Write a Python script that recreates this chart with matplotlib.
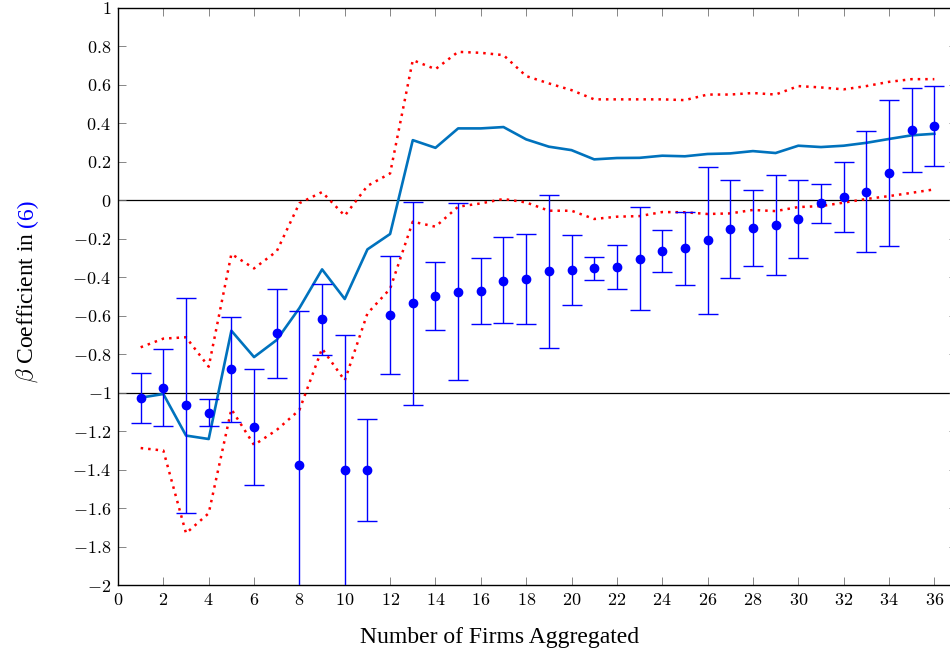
import matplotlib
matplotlib.use('Agg')
import matplotlib.pyplot as plt
from matplotlib.ticker import FuncFormatter, MultipleLocator

plt.rcParams['mathtext.fontset'] = 'cm'
plt.rcParams['font.family'] = ['Liberation Serif', 'DejaVu Serif']

# data
firms = list(range(1, 37))

coef = [-1.026, -0.974, -1.064, -1.104, -0.879, -1.178, -0.691, -1.377, -0.619, -1.400,
        -1.400, -0.595, -0.536, -0.496, -0.477, -0.471, -0.417, -0.407, -0.369, -0.361,
        -0.352, -0.345, -0.305, -0.265, -0.250, -0.208, -0.149, -0.144, -0.130, -0.097,
        -0.016, 0.017, 0.045, 0.143, 0.367, 0.388]
ci_hi = [-0.896, -0.771, -0.506, -1.035, -0.607, -0.879, -0.461, -0.577, -0.433, -0.698,
         -1.137, -0.290, -0.007, -0.319, -0.016, -0.300, -0.192, -0.173, 0.028, -0.179,
         -0.293, -0.231, -0.036, -0.156, -0.059, 0.171, 0.104, 0.052, 0.133, 0.106,
         0.086, 0.201, 0.362, 0.523, 0.585, 0.596]
ci_lo = [-1.156, -1.175, -1.624, -1.173, -1.152, -1.478, -0.925, -2.40, -0.806, -2.40,
         -1.665, -0.902, -1.064, -0.672, -0.936, -0.643, -0.639, -0.641, -0.766, -0.543,
         -0.413, -0.459, -0.572, -0.374, -0.440, -0.589, -0.402, -0.340, -0.390, -0.298,
         -0.118, -0.165, -0.270, -0.236, 0.149, 0.178]

mean_line = [-1.026, -1.007, -1.223, -1.241, -0.678, -0.815, -0.726, -0.560, -0.359, -0.513,
             -0.255, -0.175, 0.313, 0.273, 0.374, 0.374, 0.381, 0.317, 0.279, 0.261,
             0.213, 0.220, 0.221, 0.232, 0.229, 0.241, 0.244, 0.256, 0.246, 0.284,
             0.277, 0.284, 0.299, 0.319, 0.338, 0.346]
band_hi = [-0.764, -0.719, -0.712, -0.865, -0.279, -0.354, -0.265, -0.015, 0.043, -0.080,
           0.075, 0.140, 0.729, 0.682, 0.772, 0.767, 0.755, 0.646, 0.608, 0.573,
           0.525, 0.525, 0.525, 0.525, 0.521, 0.550, 0.550, 0.558, 0.550, 0.594,
           0.587, 0.577, 0.594, 0.616, 0.630, 0.630]
band_lo = [-1.288, -1.301, -1.731, -1.627, -1.086, -1.272, -1.194, -1.090, -0.771, -0.937,
           -0.588, -0.460, -0.111, -0.137, -0.033, -0.016, 0.007, -0.011, -0.054, -0.054,
           -0.097, -0.085, -0.082, -0.061, -0.062, -0.071, -0.068, -0.050, -0.056, -0.035,
           -0.030, -0.012, 0.007, 0.022, 0.039, 0.057]

fig = plt.figure(figsize=(9.5, 6.51), dpi=100)
ax = fig.add_axes([118 / 950, 66 / 651, 839 / 950, 577 / 651])

ax.axhline(0, color='black', lw=0.9, zorder=1)
ax.axhline(-1, color='black', lw=0.9, zorder=1)

ax.plot(firms, band_hi, color='red', lw=1.8, ls=(0, (1, 2.0)), zorder=2)
ax.plot(firms, band_lo, color='red', lw=1.8, ls=(0, (1, 2.0)), zorder=2)
ax.plot(firms, mean_line, color='#0072bd', lw=1.9, zorder=3)

err_lo = [c - lo for c, lo in zip(coef, ci_lo)]
err_hi = [hi - c for c, hi in zip(coef, ci_hi)]
ax.errorbar(firms, coef, yerr=[err_lo, err_hi], fmt='o', color='blue', ms=6,
            elinewidth=1.0, capsize=7.5, capthick=1.0, zorder=4)

ax.set_xlim(0, 37)
ax.set_ylim(-2, 1)
ax.xaxis.set_major_locator(MultipleLocator(2))
ax.yaxis.set_major_locator(MultipleLocator(0.2))
fmt = FuncFormatter(lambda v, p: '$%g$' % round(v, 2))
ax.xaxis.set_major_formatter(fmt)
ax.yaxis.set_major_formatter(fmt)
ax.tick_params(direction='in', length=6, width=0.6, color='0.45', labelsize=13,
               top=True, right=True, pad=5)
for s in ax.spines.values():
    s.set_linewidth(1.0)
ax.spines['right'].set_visible(False)

fig.text(500 / 950, 8 / 651, 'Number of Firms Aggregated', fontsize=17,
         ha='center', va='baseline')

# y label, reference number in blue
t1 = fig.text(33 / 950, 0.5, r'$\beta$ Coefficient in', rotation=90, fontsize=17,
              rotation_mode='anchor', ha='center', va='baseline')
t2 = fig.text(33 / 950, 0.5, '(6)', rotation=90, fontsize=17, color='blue',
              rotation_mode='anchor', ha='center', va='baseline')
fig.canvas.draw()
inv = fig.transFigure.inverted()
bb1 = t1.get_window_extent()
bb2 = t2.get_window_extent()
gap = 5
total = bb1.height + gap + bb2.height
mid = 651 - 291
start = mid - total / 2
t1.set_y((start + bb1.height / 2) / 651)
t2.set_y((start + bb1.height + gap + bb2.height / 2) / 651)

fig.savefig('out.png', dpi=100)
